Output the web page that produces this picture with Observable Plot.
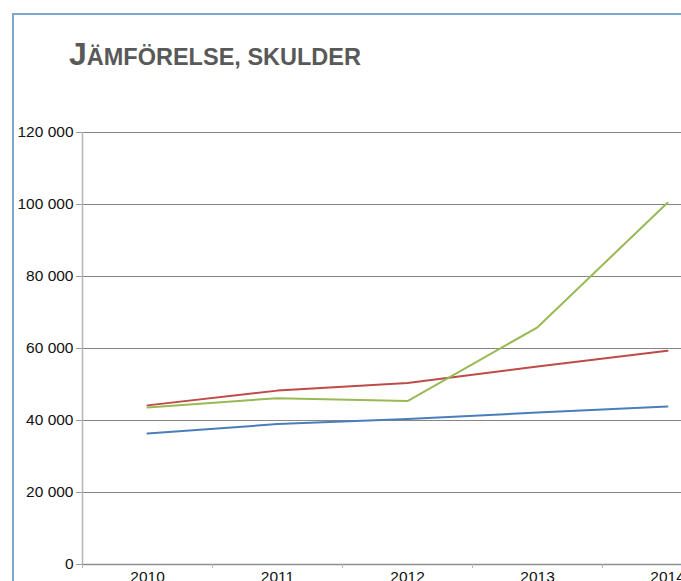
<!DOCTYPE html>
<html>
<head>
<meta charset="utf-8">
<script src="https://cdn.jsdelivr.net/npm/d3@7"></script>
<script src="https://cdn.jsdelivr.net/npm/@observablehq/plot@0.6"></script>
<style>
  html, body { margin: 0; padding: 0; overflow: hidden; background: #fff; width: 681px; height: 581px; }
  #wrap { position: relative; width: 681px; height: 581px; overflow: hidden; }
  #frame { position: absolute; left: 12px; top: 13px; width: 700px; height: 600px;
           border-left: 2px solid #7ea6cf; border-top: 2px solid #7ea6cf; box-sizing: border-box; }
  #title { position: absolute; left: 69px; top: 36px; font-family: "Liberation Sans", Arial, sans-serif;
           font-weight: bold; color: #595959; white-space: nowrap; }
  #chart { position: absolute; left: 0; top: 0; width: 732px; height: 600px; }
  #chart svg { max-width: none !important; }
</style>
</head>
<body>
<div id="wrap">
  <div id="frame"></div>
  <div id="title"><span style="font-size:32px">J</span><span style="font-size:23.5px">ÄMFÖRELSE, SKULDER</span></div>
  <div id="chart"></div>
</div>
<script>
const years = [2010, 2011, 2012, 2013, 2014];
const seriesNames = ["blå", "röd", "grön"];
const blueValues = [36400, 39000, 40400, 42200, 43900];
const redValues = [44200, 48300, 50400, 55000, 59400];
const greenValues = [43600, 46200, 45400, 65900, 100500];
const seriesColors = ["#4a7ebb", "#be4b48", "#98b954"];
const yTicks = [0, 20000, 40000, 60000, 80000, 100000, 120000];
const xBoundaries = [2009.5, 2010.5, 2011.5, 2012.5, 2013.5, 2014.5];

const valueSets = [blueValues, redValues, greenValues];
const data = [];
seriesNames.forEach((s, i) => years.forEach((y, j) => data.push({series: s, year: y, value: valueSets[i][j]})));

const fmt = d => d3.format(",")(d).replace(/,/g, " ");

const chart = Plot.plot({
  width: 732,
  height: 600,
  marginLeft: 82,
  marginRight: 0,
  marginTop: 132,
  marginBottom: 36,
  style: { fontFamily: "'Liberation Sans', Arial, sans-serif", fontSize: "15.5px", color: "#111", background: "transparent", overflow: "visible", maxWidth: "none" },
  x: { type: "linear", domain: [2009.5, 2014.5], label: null },
  y: { domain: [0, 120000], label: null },
  color: { domain: seriesNames, range: seriesColors },
  marks: [
    Plot.gridY(yTicks.filter(d => d > 0), { stroke: "#868686", strokeOpacity: 1, strokeWidth: 1 }),
    Plot.ruleX([2009.5], { stroke: "#b5b5b5", strokeWidth: 1.5 }),
    Plot.ruleY([0], { stroke: "#8e8e8e", strokeWidth: 1.5 }),
    Plot.axisY(yTicks, { tickSize: 6, tickPadding: 3, tickFormat: fmt, stroke: "#9a9a9a", label: null }),
    Plot.axisX(xBoundaries, { tickSize: 4, tickFormat: () => "", stroke: "#b5b5b5", label: null }),
    Plot.axisX(years, { tickSize: 0, tickPadding: 6, tickFormat: d => String(d), label: null }),
    Plot.line(data, { x: "year", y: "value", z: "series", stroke: "series", strokeWidth: 2 })
  ]
});
document.getElementById("chart").appendChild(chart);
</script>
</body>
</html>
